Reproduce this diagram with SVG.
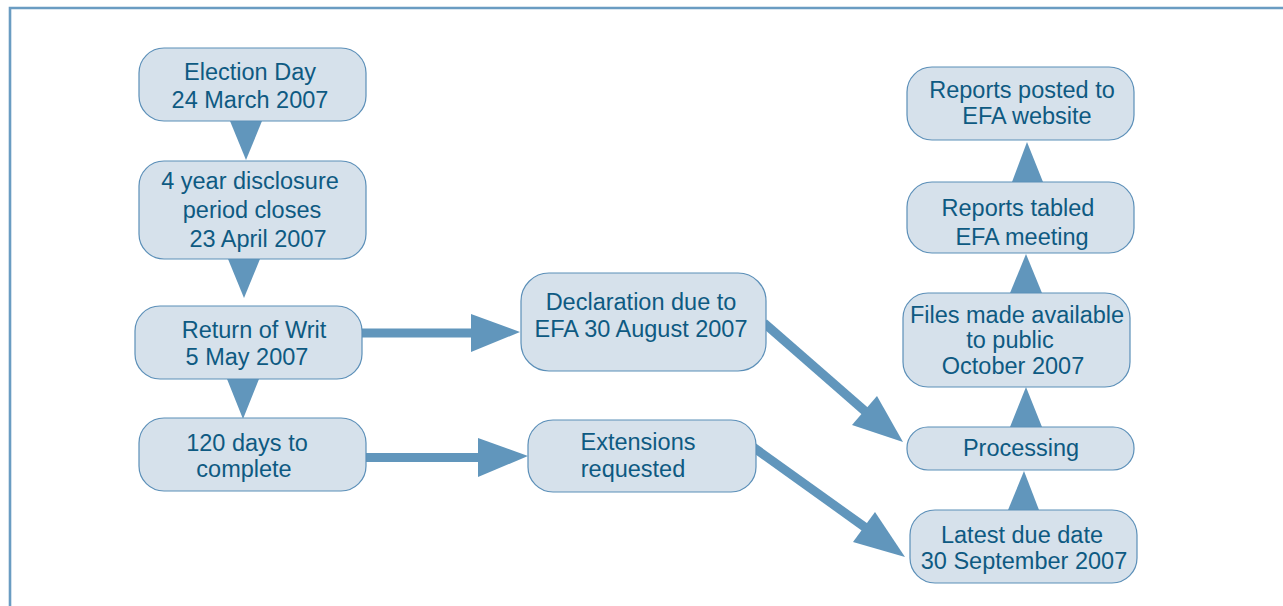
<svg xmlns="http://www.w3.org/2000/svg" width="1283" height="606" viewBox="0 0 1283 606">
<style>
.node rect{fill:#d6e1eb;stroke:#5b8fb8;stroke-width:1.2}
.node text{font-family:"Liberation Sans",Arial,sans-serif;font-size:23.5px;fill:#0e5a82;text-anchor:middle}
.shaft{stroke:#6196bc;stroke-width:9;fill:none}
.head{fill:#6196bc}
</style>
<rect x="0" y="0" width="1283" height="606" fill="#ffffff"/>
<path d="M10,620 V8 H1290" fill="none" stroke="#6a9cc2" stroke-width="2.6"/>

<g id="connectors">
<polygon class="head" points="230,121 262,121 246,160"/>
<polygon class="head" points="228,259 260,259 244,298"/>
<polygon class="head" points="227,379 259,379 243,419"/>
<line class="shaft" x1="362" y1="333" x2="474" y2="333"/>
<polygon class="head" points="471,314 471,352 520,332"/>
<line class="shaft" x1="366" y1="457.5" x2="481" y2="457.5"/>
<polygon class="head" points="478,438 478,477 528,456"/>
<line class="shaft" x1="764" y1="323" x2="866" y2="412"/>
<polygon class="head" points="852,425 877,396 903,442"/>
<line class="shaft" x1="753" y1="447" x2="866" y2="528"/>
<polygon class="head" points="853,542 875,512 905,557"/>
<polygon class="head" points="1008,510 1039,510 1024,471"/>
<polygon class="head" points="1010,427 1042,427 1026,387"/>
<polygon class="head" points="1010,293 1042,293 1026,254"/>
<polygon class="head" points="1012,182 1043,182 1027,142"/>
</g>

<g id="n-election" class="node">
<rect x="139" y="48" width="227" height="73" rx="25"/>
<text x="250" y="80">Election Day</text>
<text x="250" y="108">24 March 2007</text>
</g>
<g id="n-disclosure" class="node">
<rect x="139" y="161" width="227" height="98" rx="25"/>
<text x="250" y="189">4 year disclosure</text>
<text x="252" y="218">period closes</text>
<text x="258" y="247">23 April 2007</text>
</g>
<g id="n-writ" class="node">
<rect x="135" y="306" width="227" height="73" rx="25"/>
<text x="254" y="338">Return of Writ</text>
<text x="247" y="365">5 May 2007</text>
</g>
<g id="n-120days" class="node">
<rect x="139" y="418" width="227" height="73" rx="25"/>
<text x="247" y="451">120 days to</text>
<text x="244" y="477">complete</text>
</g>
<g id="n-declaration" class="node">
<rect x="521" y="273" width="245" height="98" rx="28"/>
<text x="641" y="310">Declaration due to</text>
<text x="641" y="337">EFA 30 August 2007</text>
</g>
<g id="n-extensions" class="node">
<rect x="528" y="420" width="228" height="72" rx="25"/>
<text x="638" y="450">Extensions</text>
<text x="633" y="477">requested</text>
</g>
<g id="n-processing" class="node">
<rect x="907" y="427" width="227" height="43" rx="21"/>
<text x="1021" y="456">Processing</text>
</g>
<g id="n-latest" class="node">
<rect x="910" y="510" width="227" height="73" rx="25"/>
<text x="1022" y="543">Latest due date</text>
<text x="1024" y="569">30 September 2007</text>
</g>
<g id="n-files" class="node">
<rect x="903" y="293" width="227" height="94" rx="25"/>
<text x="1017" y="323">Files made available</text>
<text x="1010" y="348">to public</text>
<text x="1013" y="374">October 2007</text>
</g>
<g id="n-tabled" class="node">
<rect x="907" y="182" width="227" height="71" rx="25"/>
<text x="1018" y="216">Reports tabled</text>
<text x="1022" y="245">EFA meeting</text>
</g>
<g id="n-posted" class="node">
<rect x="907" y="67" width="227" height="73" rx="25"/>
<text x="1022" y="98">Reports posted to</text>
<text x="1027" y="124">EFA website</text>
</g>
</svg>
